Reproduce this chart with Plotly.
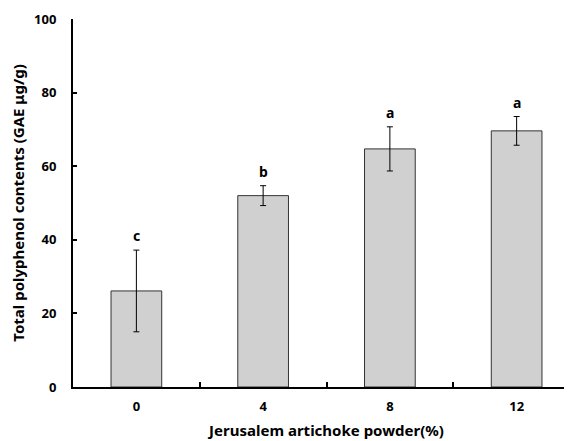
import plotly.graph_objects as go

categories = ["0", "4", "8", "12"]
means = [26.1, 52.0, 64.7, 69.6]
errors = [11.1, 2.7, 6.0, 3.9]
letters = ["c", "b", "a", "a"]
y_ticks = [0, 20, 40, 60, 80, 100]

FONT = "Noto Sans"

fig = go.Figure()
fig.add_trace(go.Bar(
    x=categories, y=means, width=0.40,
    marker=dict(color="#d0d0d0", line=dict(color="#333333", width=1)),
    error_y=dict(type="data", array=errors, visible=True, color="#000000", thickness=1, width=3),
    showlegend=False,
))

for i, (m, e, l) in enumerate(zip(means, errors, letters)):
    fig.add_annotation(x=i, y=m + e, text="<b>%s</b>" % l, showarrow=False,
                       yanchor="bottom", yshift=3,
                       font=dict(family=FONT, size=14, color="#000000"))

fig.update_layout(
    width=572, height=441,
    margin=dict(l=65, r=0, t=11, b=62),
    plot_bgcolor="white", paper_bgcolor="white",
    font=dict(family=FONT, color="#000000"),
    bargap=0.6,
)
fig.update_xaxes(
    type="category", range=[-0.5, 3.5], automargin=False,
    showline=True, linecolor="#000000", linewidth=2,
    ticks="inside", tickson="boundaries", ticklen=5, tickwidth=2, tickcolor="#000000",
    ticklabelstandoff=6,
    tickfont=dict(family=FONT, size=13, color="#000000", weight="bold"),
    title=dict(text="<b>Jerusalem artichoke powder(%)</b>", font=dict(family=FONT, size=15), standoff=12),
    showgrid=False, zeroline=False,
)
fig.update_yaxes(
    range=[0, 100], tickvals=y_ticks, automargin=False,
    showline=True, linecolor="#000000", linewidth=2,
    ticks="inside", ticklen=4, tickwidth=2, tickcolor="#000000",
    ticklabelstandoff=12,
    tickfont=dict(family=FONT, size=13, color="#000000", weight="bold"),
    title=dict(text="<b>Total polyphenol contents (GAE μg/g)</b>", font=dict(family=FONT, size=15), standoff=8),
    showgrid=False, zeroline=False,
)

fig.write_html("out.html")
